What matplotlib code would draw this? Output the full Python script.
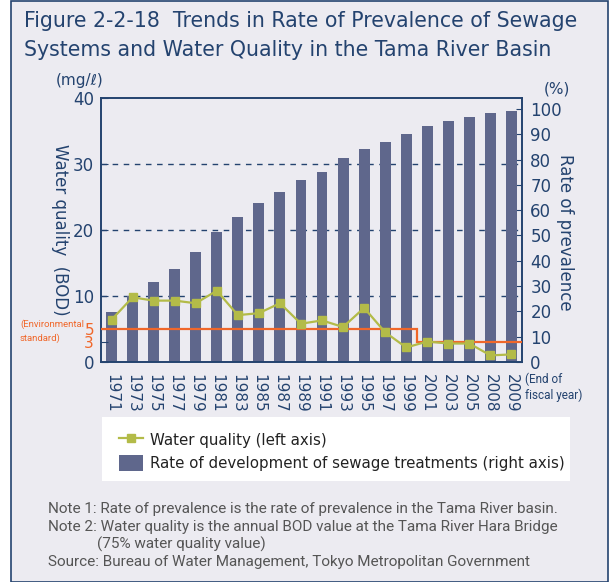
import numpy as np
import matplotlib
matplotlib.use('Agg')
import matplotlib.pyplot as plt
from matplotlib.lines import Line2D
from matplotlib.patches import Patch, Rectangle

# 資料
years = ['1971', '1973', '1975', '1977', '1979', '1981', '1983', '1985', '1987', '1989',
         '1991', '1993', '1995', '1997', '1999', '2001', '2003', '2005', '2008', '2009']
sewage_rate = [19.6, 26.2, 31.8, 36.6, 43.3, 51.2, 57.1, 63.0, 67.0, 72.1,
               75.2, 80.4, 84.3, 87.1, 89.9, 93.4, 95.4, 96.6, 98.2, 99.0]
bod = [6.4, 9.8, 9.3, 9.3, 8.9, 10.8, 7.1, 7.4, 8.9, 5.8,
       6.3, 5.3, 8.2, 4.5, 2.2, 3.1, 2.8, 2.8, 1.0, 1.15]
env_standard = [5] * 15 + [3] * 5

left_ticks = [0, 3, 5, 10, 20, 30, 40]
right_ticks = [0, 10, 20, 30, 40, 50, 60, 70, 80, 90, 100]

navy = '#24436f'
bar_color = '#5f678c'
line_color = '#b3bb48'
orange = '#f0672a'
bg = '#ecebf1'
narrow = ['Roboto', 'DejaVu Sans']

plt.rcParams['font.family'] = ['DejaVu Sans']

W, H = 609, 582
fig = plt.figure(figsize=(W / 100, H / 100), dpi=100)
fig.patch.set_facecolor('white')

def fx(px):
    return px / W

def fy(py):
    return 1 - py / H

# 外框
fig.patches.append(Rectangle((fx(11), fy(582)), fx(608) - fx(11), fy(1) - fy(582),
                             transform=fig.transFigure, facecolor=bg, edgecolor=navy,
                             linewidth=1.2, zorder=-10))

ax = fig.add_axes([fx(101), fy(362), fx(522) - fx(101), fy(98) - fy(362)])
ax2 = ax.twinx()
ax.set_zorder(ax2.get_zorder() + 1)
ax.patch.set_visible(False)
ax2.patch.set_visible(False)

x = np.arange(len(years))
ymax_left = 40
ymax_right = 104.3

# 下水道普及率（右軸）
for v in [10, 20, 30]:
    ax2.plot([0, 1], [v / ymax_left] * 2, transform=ax2.transAxes, color=navy,
             linestyle=(0, (4, 4)), linewidth=1, zorder=0)
ax2.bar(x, sewage_rate, width=0.52, color=bar_color, zorder=2)
ax2.set_ylim(0, ymax_right)
ax2.set_yticks(right_ticks)
ax2.set_yticklabels([str(t) for t in right_ticks], fontsize=12, color=navy)
ax2.tick_params(axis='y', direction='in', length=4, pad=6, color=navy)

# 水質（左軸）
ax.stairs(env_standard, np.arange(-0.5, len(years)), baseline=None, color=orange,
          linewidth=1.6, zorder=3)
ax.plot(x, bod, color=line_color, linewidth=1.6, marker='s', markersize=6,
        zorder=4)
ax.set_ylim(0, ymax_left)
ax.set_xlim(-0.5, len(years) - 0.5)
ax.set_yticks(left_ticks)
ax.set_yticklabels([str(t) for t in left_ticks], fontsize=12, color=navy)
for lab, t in zip(ax.get_yticklabels(), left_ticks):
    if t in (3, 5):
        lab.set_color(orange)
        lab.set_fontsize(11)
ax.tick_params(axis='y', direction='in', length=5, pad=5, color=navy)
ax.set_xticks(x)
ax.set_xticklabels(years, rotation=-90, fontsize=11, color=navy)
ax.tick_params(axis='x', length=0, pad=9)
ax2.tick_params(axis='x', length=0)

for a in (ax, ax2):
    for s in a.spines.values():
        s.set_color(navy)
        s.set_linewidth(1.2)

# 文字
fig.text(fx(24), fy(21), 'Figure 2-2-18  Trends in Rate of Prevalence of Sewage',
         fontsize=14.8, color=navy, va='center', ha='left')
fig.text(fx(24), fy(50), 'Systems and Water Quality in the Tama River Basin',
         fontsize=14.8, color=navy, va='center', ha='left')
fig.text(fx(80), fy(80), '(mg/ℓ)', fontsize=11, color=navy, ha='center', va='center')
fig.text(fx(557), fy(89), '(%)', fontsize=11, color=navy, ha='center', va='center')
fig.text(fx(60), fy(230), 'Water quality  (BOD)', fontsize=12, color=navy,
         rotation=-90, ha='center', va='center')
fig.text(fx(565), fy(232), 'Rate of prevalence', fontsize=12, color=navy,
         rotation=-90, ha='center', va='center')
fig.text(fx(20), fy(331), '(Environmental\nstandard)', fontsize=6.8, color=orange,
         ha='left', va='center', linespacing=1.6, family=narrow)
fig.text(fx(525), fy(387), '(End of\nfiscal year)', fontsize=8.5, color=navy,
         ha='left', va='center', linespacing=1.25, family=narrow)

# 凡例
fig.patches.append(Rectangle((fx(102), fy(481)), fx(570) - fx(102), fy(417) - fy(481),
                             transform=fig.transFigure, facecolor='white',
                             edgecolor='none', zorder=-5))
handles = [Line2D([], [], color=line_color, linewidth=1.6, marker='s', markersize=6),
           Patch(facecolor=bar_color)]
fig.legend(handles, ['Water quality (left axis)',
                     'Rate of development of sewage treatments (right axis)'],
           loc='upper left', bbox_to_anchor=(fx(111), fy(424)), frameon=False,
           fontsize=10.8, labelcolor='#222222', handlelength=1.6, handleheight=1.3,
           handletextpad=0.5, labelspacing=0.45, borderpad=0)

notes = ['Note 1: Rate of prevalence is the rate of prevalence in the Tama River basin.',
         'Note 2: Water quality is the annual BOD value at the Tama River Hara Bridge',
         '(75% water quality value)',
         'Source: Bureau of Water Management, Tokyo Metropolitan Government']
note_x = [48, 48, 97, 48]
note_y = [509, 527, 544, 562]
for t, nx, ny in zip(notes, note_x, note_y):
    fig.text(fx(nx), fy(ny), t, fontsize=11, color='#555555', ha='left', va='center',
             family=narrow)

plt.savefig('out.png', dpi=100, facecolor=fig.get_facecolor())
